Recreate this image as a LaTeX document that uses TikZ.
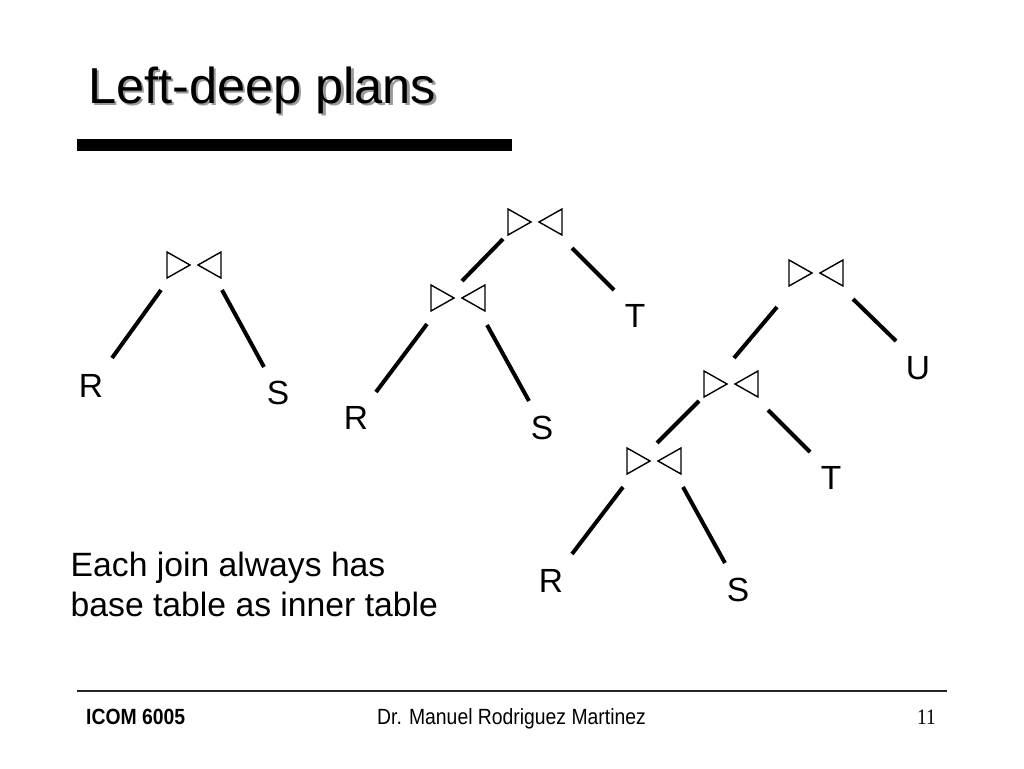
\documentclass[tikz,border=0pt]{standalone}
\usepackage{fontspec}
\setmainfont{Liberation Sans}
\newfontfamily\footsans[FakeStretch=0.88]{Liberation Sans}
\newfontfamily\footserif[FakeStretch=0.88]{Liberation Serif}
\begin{document}
\begin{tikzpicture}[x=1pt,y=-1pt,
  leaf/.style={inner sep=0pt, font=\fontsize{33.5}{38}\selectfont},
  notetext/.style={inner sep=0pt, anchor=base west, font=\fontsize{33.7}{40}\selectfont},
  edge/.style={line width=4pt},
  tri/.style={line width=1.4pt, line join=miter},
  joinpic/.pic={
    \node[minimum width=55pt, minimum height=27pt, inner sep=0pt] (-c) {};
    \draw[tri] (-27,-13) -- (-4,0) -- (-27,13) -- cycle;
    \draw[tri] (27,-13) -- (4,0) -- (27,13) -- cycle;
  }]
\useasboundingbox (0,0) rectangle (1024,768);
\fill[white] (0,0) rectangle (1024,768);

% title
\node[inner sep=0pt, anchor=base west, text=black!40, font=\fontsize{50.5}{60}\selectfont] (titleshadow) at (90.5,105.5) {Left-deep plans};
\node[inner sep=0pt, anchor=base west, font=\fontsize{50.5}{60}\selectfont] (title) at (88,103) {Left-deep plans};
\fill (77,139) rectangle (512,151);

% tree 1
\pic (j1) at (194,265) {joinpic};
\node[leaf] (r1) at (91,386) {R};
\node[leaf] (s1) at (278,393) {S};
\draw[edge] ([shift={(-33,25)}]j1-c.center) -- ([shift={(21,-28)}]r1.center);
\draw[edge] ([shift={(28,25)}]j1-c.center) -- ([shift={(-14,-26)}]s1.center);

% tree 2
\pic (j2) at (535,222) {joinpic};
\pic (j3) at (458,298) {joinpic};
\node[leaf] (t2) at (635,316) {T};
\node[leaf] (r2) at (356,418) {R};
\node[leaf] (s2) at (542,428) {S};
\draw[edge] ([shift={(-32,17)}]j2-c.center) -- ([shift={(4,-17)}]j3-c.center);
\draw[edge] ([shift={(37,26)}]j2-c.center) -- ([shift={(-21,-26)}]t2.center);
\draw[edge] ([shift={(-31,26)}]j3-c.center) -- ([shift={(20,-26)}]r2.center);
\draw[edge] ([shift={(29,27)}]j3-c.center) -- ([shift={(-13,-27)}]s2.center);

% tree 3
\pic (j4) at (816,273) {joinpic};
\pic (j5) at (731,384) {joinpic};
\pic (j6) at (654,461) {joinpic};
\node[leaf] (u3) at (918,368) {U};
\node[leaf] (t3) at (831,478) {T};
\node[leaf] (r3) at (551,581) {R};
\node[leaf] (s3) at (738,590) {S};
\draw[edge] ([shift={(-39,34)}]j4-c.center) -- ([shift={(3,-26)}]j5-c.center);
\draw[edge] ([shift={(37,26)}]j4-c.center) -- ([shift={(-22,-27)}]u3.center);
\draw[edge] ([shift={(-32,17)}]j5-c.center) -- ([shift={(3,-18)}]j6-c.center);
\draw[edge] ([shift={(37,26)}]j5-c.center) -- ([shift={(-21,-26)}]t3.center);
\draw[edge] ([shift={(-31,26)}]j6-c.center) -- ([shift={(21,-27)}]r3.center);
\draw[edge] ([shift={(29,26)}]j6-c.center) -- ([shift={(-13,-27)}]s3.center);

% note
\node[notetext] (note1) at (70.5,576) {Each join always has};
\node[notetext] (note2) at (70.5,616) {base table as inner table};

% footer
\draw[line width=1.5pt, draw=black!85] (77,691) -- (947,691);
\node[inner sep=0pt, anchor=base west, font=\footsans\bfseries\fontsize{22}{26}\selectfont] (foot1) at (86,724) {ICOM 6005};
\node[inner sep=0pt, anchor=base, font=\footsans\fontsize{22}{26}\selectfont] (foot2) at (511.5,724) {Dr. Manuel Rodriguez Martinez};
\node[inner sep=0pt, anchor=base east, font=\footserif\fontsize{22}{26}\selectfont] (foot3) at (936,724) {11};
\end{tikzpicture}
\end{document}
